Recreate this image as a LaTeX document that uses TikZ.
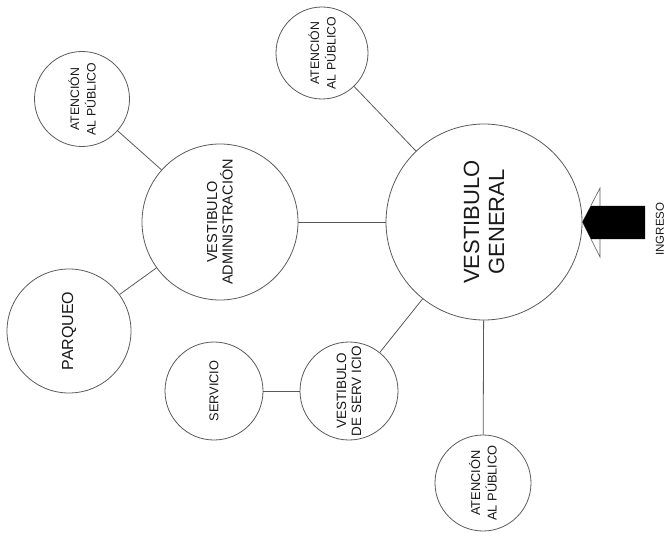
\documentclass[tikz,border=0pt]{standalone}
\usepackage{fontspec}
\setmainfont{Liberation Sans}
\definecolor{linegray}{RGB}{90,90,90}
\definecolor{txt}{RGB}{25,25,25}
\begin{document}
\begin{tikzpicture}[x=1pt,y=1pt,
  bubble/.style={circle,draw=linegray,line width=0.8pt,inner sep=0pt,rotate=90,align=center,text=txt},
  conn/.style={draw=linegray,line width=0.8pt}]
\useasboundingbox (0,0) rectangle (668,536);
\node[bubble,minimum size=196pt,font=\fontsize{22}{25}\selectfont] (vg) at (484,314) {VESTIBULO\\GENERAL};
\node[bubble,minimum size=156pt,font=\fontsize{14.5}{15.5}\selectfont] (va) at (220,314) {VESTIBULO\\ADMINISTRACIÓN};
\node[bubble,minimum size=92pt,font=\fontsize{12.3}{16.5}\selectfont] (ta) at (322,483) {ATENCIÓN\\AL PÚBLICO};
\node[bubble,minimum size=95pt,font=\fontsize{12.3}{16.5}\selectfont] (la) at (82,437) {ATENCIÓN\\AL PÚBLICO};
\node[bubble,minimum size=96pt,font=\fontsize{12.8}{16.5}\selectfont] (ba) at (483,53) {ATENCIÓN\\AL PÚBLICO};
\node[bubble,minimum size=124pt,font=\fontsize{16}{18}\selectfont] (pq) at (69,205) {PARQUEO};
\node[bubble,minimum size=98pt,font=\fontsize{12.8}{15}\selectfont] (sv) at (214,145) {SERVICIO};
\node[bubble,minimum size=98pt,font=\fontsize{13.5}{15}\selectfont] (vs) at (349,145) {VESTIBULO\\DE SERV ICIO};
\draw[conn] (vg) -- (ta);
\draw[conn] (vg) -- (va);
\draw[conn] (vg) -- (vs);
\draw[conn] (vg) -- (ba);
\draw[conn] (va) -- (la);
\draw[conn] (va) -- (pq);
\draw[conn] (vs) -- (sv);
% entrance arrow
\coordinate (tip) at (582.5,314);
\draw[linegray,line width=0.6pt,fill=white] (tip) -- (600,348) -- (600,279) -- cycle;
\fill[black] (tip) -- (591,330) -- (645,330) -- (645,297) -- (591,297) -- cycle;
\node[rotate=90,text=txt,font=\fontsize{11.5}{13}\selectfont,inner sep=0pt] (ing) at (660,307) {INGRESO};
\end{tikzpicture}
\end{document}
